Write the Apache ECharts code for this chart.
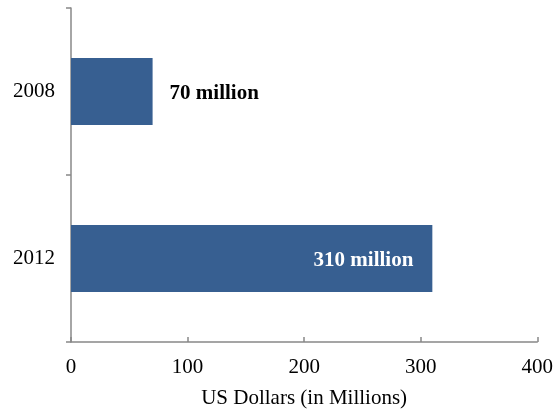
<!DOCTYPE html>
<html><head><meta charset="utf-8">
<script src="https://cdn.jsdelivr.net/npm/echarts@6/dist/echarts.min.js"></script>
<style>html,body{margin:0;padding:0;background:#fff}#c{width:556px;height:414px}</style>
</head><body><div id="c"></div>
<script>
const categories = ['2008', '2012'];
const values = [70, 310];
const valueLabels = ['70 million', '310 million'];
const xTicks = [0, 100, 200, 300, 400];

const chart = echarts.init(document.getElementById('c'));
const font = '"Liberation Serif", "Times New Roman", serif';
chart.setOption({
  animation: false,
  grid: {left: 71, right: 17, top: 8, bottom: 69, containLabel: false},
  xAxis: {
    type: 'value', min: xTicks[0], max: xTicks[xTicks.length - 1], interval: 100,
    name: 'US Dollars (in Millions)', nameLocation: 'middle', nameGap: 46,
    nameTextStyle: {fontFamily: font, fontSize: 21, color: '#000'},
    axisLine: {show: true, lineStyle: {color: '#888', width: 1.5}},
    axisTick: {show: true, inside: true, length: 5, lineStyle: {color: '#888', width: 1.5}},
    axisLabel: {fontFamily: font, fontSize: 21, color: '#000', margin: 15},
    splitLine: {show: false}
  },
  yAxis: {
    type: 'category', data: categories, inverse: true,
    axisLine: {show: true, lineStyle: {color: '#888', width: 1.5}},
    axisTick: {show: true, length: 5, lineStyle: {color: '#888', width: 1.5}},
    axisLabel: {fontFamily: font, fontSize: 21, color: '#000', margin: 16}
  },
  series: [{
    type: 'bar',
    data: values.map((v, i) => ({
      value: v,
      label: i === 0
        ? {show: true, position: 'right', distance: 17, color: '#000', formatter: valueLabels[i]}
        : {show: true, position: 'insideRight', distance: 19, color: '#fff', formatter: valueLabels[i]}
    })),
    barWidth: 67,
    itemStyle: {color: '#375F91'},
    label: {fontFamily: font, fontSize: 21, fontWeight: 'bold', offset: [0, 2]}
  }]
});
</script></body></html>
